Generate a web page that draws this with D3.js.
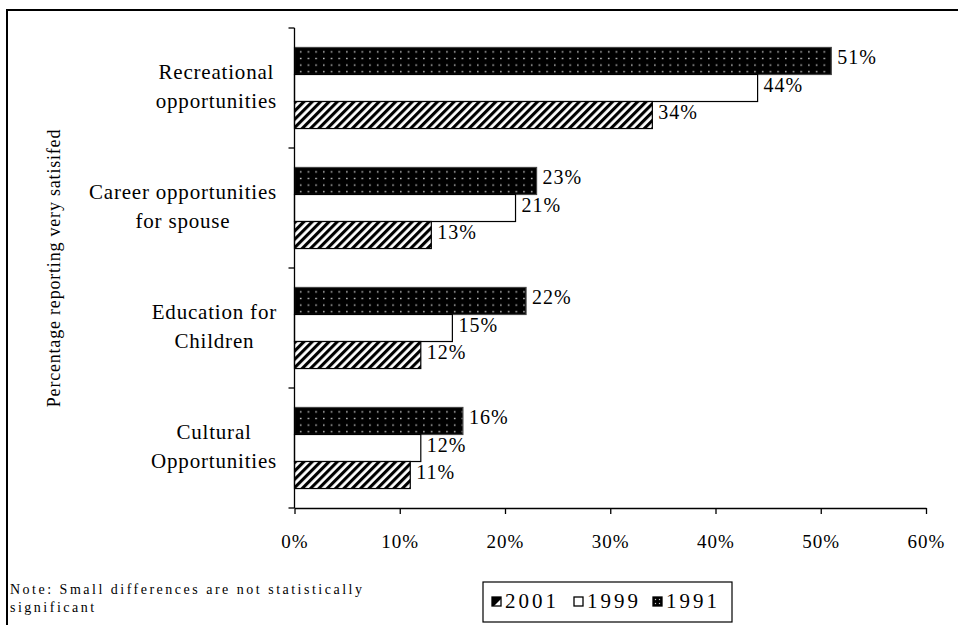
<!DOCTYPE html>
<html>
<head>
<meta charset="utf-8">
<script src="https://cdn.jsdelivr.net/npm/d3@7/dist/d3.min.js"></script>
<style>
  html, body { margin: 0; padding: 0; background: #fff; }
  svg { display: block; }
  text { font-family: "Liberation Serif", "Times New Roman", serif; fill: #000; }
</style>
</head>
<body>
<svg id="chart" width="958" height="625"></svg>
<script>
// Satisfaction items, top to bottom
const categories = [
  ["Recreational", "opportunities"],
  ["Career opportunities", "for spouse"],
  ["Education for", "Children"],
  ["Cultural", "Opportunities"]
];
const categoryKeys = categories.map(c => c.join(" "));

// Survey years, drawn top to bottom within each item
const years = ["1991", "1999", "2001"];
const legendYears = ["2001", "1999", "1991"];

// Percentage reporting very satisfied
const values1991 = [51, 23, 22, 16];
const values1999 = [44, 21, 15, 12];
const values2001 = [34, 13, 12, 11];
const seriesValues = { "1991": values1991, "1999": values1999, "2001": values2001 };

const xTicks = [0, 10, 20, 30, 40, 50, 60];
const yTitle = "Percentage reporting very satisifed";
const noteLines = ["Note: Small differences are not statistically", "significant"];

const svg = d3.select("#chart");

// Patterns for the bar fills
const defs = svg.append("defs");
const dots = defs.append("pattern")
  .attr("id", "dots").attr("patternUnits", "userSpaceOnUse")
  .attr("width", 7.7).attr("height", 6.6).attr("x", 297).attr("y", 47);
dots.append("rect").attr("width", 7.7).attr("height", 6.6).attr("fill", "#000");
dots.append("rect").attr("x", 3).attr("y", 2.6).attr("width", 1.4).attr("height", 1.4)
  .attr("fill", "#fff").attr("opacity", 0.85);

const hatch = defs.append("pattern")
  .attr("id", "hatch").attr("patternUnits", "userSpaceOnUse")
  .attr("width", 5.9).attr("height", 10)
  .attr("patternTransform", "rotate(45)");
hatch.append("rect").attr("width", 5.9).attr("height", 10).attr("fill", "#fff");
hatch.append("rect").attr("width", 3.1).attr("height", 10).attr("fill", "#000");

const fills = { "1991": "url(#dots)", "1999": "#fff", "2001": "url(#hatch)" };

// Outer frame
svg.append("rect")
  .attr("x", 7).attr("y", 10).attr("width", 1000).attr("height", 700)
  .attr("fill", "none").attr("stroke", "#000").attr("stroke-width", 2);

// Scales
const x = d3.scaleLinear().domain([0, 60]).range([294.5, 926]);
const y0 = d3.scaleBand().domain(categoryKeys).range([28, 508]).paddingInner(0).paddingOuter(0);
const y1 = d3.scaleBand().domain(years).range([0, y0.bandwidth()]).paddingInner(0).paddingOuter(0.72);

// Bars
const groups = svg.append("g").selectAll("g")
  .data(categoryKeys)
  .join("g")
  .attr("transform", d => `translate(0,${y0(d)})`);

groups.each(function (key, i) {
  const g = d3.select(this);
  years.forEach(yr => {
    const v = seriesValues[yr][i];
    g.append("rect")
      .attr("x", x(0))
      .attr("y", y1(yr))
      .attr("width", x(v) - x(0))
      .attr("height", y1.bandwidth())
      .attr("fill", fills[yr])
      .attr("stroke", yr === "1991" ? "#444" : "#000")
      .attr("stroke-width", 1.2);
    g.append("text")
      .attr("x", x(v) + 6)
      .attr("y", y1(yr) + y1.bandwidth() / 2 + 3.5)
      .attr("font-size", 20)
      .attr("letter-spacing", 1)
      .text(v + "%");
  });
});

// X axis
const xAxis = d3.axisBottom(x)
  .tickValues(xTicks)
  .tickFormat(d => d + "%")
  .tickSize(6)
  .tickSizeOuter(0);
const gx = svg.append("g").attr("transform", "translate(0,508)").call(xAxis);
gx.select(".domain").attr("stroke", "#000").attr("stroke-width", 1.3);
gx.selectAll(".tick line").attr("stroke", "#000").attr("stroke-width", 1.3);
gx.selectAll(".tick text")
  .attr("font-family", "Liberation Serif, Times New Roman, serif")
  .attr("font-size", 19)
  .attr("letter-spacing", 1)
  .attr("dy", null)
  .attr("y", 40);

// Y axis (category boundaries as ticks)
const boundaries = categoryKeys.map(k => y0(k)).concat([y0.range()[1]]);
const yLine = svg.append("g");
yLine.append("line")
  .attr("x1", x(0)).attr("x2", x(0))
  .attr("y1", boundaries[0]).attr("y2", boundaries[boundaries.length - 1])
  .attr("stroke", "#000").attr("stroke-width", 1.3);
yLine.selectAll("line.tick")
  .data(boundaries)
  .join("line")
  .attr("class", "tick")
  .attr("x1", x(0) - 6).attr("x2", x(0))
  .attr("y1", d => d).attr("y2", d => d)
  .attr("stroke", "#000").attr("stroke-width", 1.3);

// Category labels: lines centred within a block whose right edge sits left of the axis
const labelRight = 277;
categories.forEach((lines, i) => {
  const cy = y0(categoryKeys[i]) + y0.bandwidth() / 2;
  const t = svg.append("text")
    .attr("text-anchor", "middle")
    .attr("font-size", 21)
    .attr("letter-spacing", 0.8);
  const spans = lines.map((ln, j) => t.append("tspan")
    .attr("y", cy - 9 + j * 29)
    .text(ln));
  const blockW = d3.max(spans, s => s.node().getComputedTextLength());
  spans.forEach(s => s.attr("x", labelRight - blockW / 2));
});

// Y axis title
svg.append("text")
  .attr("transform", "translate(60,268) rotate(-90)")
  .attr("text-anchor", "middle")
  .attr("font-size", 18)
  .attr("letter-spacing", 0.8)
  .text(yTitle);

// Footnote
noteLines.forEach((ln, j) => {
  svg.append("text")
    .attr("x", 10)
    .attr("y", 594 + j * 18)
    .attr("font-size", 14)
    .attr("letter-spacing", 2.5)
    .text(ln);
});

// Legend
const legend = svg.append("g");
legend.append("rect")
  .attr("x", 483).attr("y", 582).attr("width", 249).attr("height", 40)
  .attr("fill", "#fff").attr("stroke", "#000").attr("stroke-width", 1.2);

const legendX = { "2001": 492, "1999": 574, "1991": 653 };
legendYears.forEach(yr => {
  const lx = legendX[yr];
  const sw = legend.append("g").attr("transform", `translate(${lx},597)`);
  if (yr === "2001") {
    sw.append("rect").attr("width", 9).attr("height", 9).attr("fill", "#000");
    sw.append("path").attr("d", "M9,2 L9,9 L2,9 Z").attr("fill", "#fff");
    sw.append("rect").attr("width", 9).attr("height", 9)
      .attr("fill", "none").attr("stroke", "#000").attr("stroke-width", 1.3);
  } else if (yr === "1999") {
    sw.append("rect").attr("width", 9).attr("height", 9)
      .attr("fill", "#fff").attr("stroke", "#000").attr("stroke-width", 1.3);
  } else {
    sw.append("rect").attr("width", 9).attr("height", 9)
      .attr("fill", "#000").attr("stroke", "#000").attr("stroke-width", 1.3);
    [[2.5, 2.5], [6.5, 2.5], [2.5, 6.5], [6.5, 6.5]].forEach(p => {
      sw.append("rect").attr("x", p[0] - 0.6).attr("y", p[1] - 0.6)
        .attr("width", 1.2).attr("height", 1.2).attr("fill", "#fff").attr("opacity", 0.8);
    });
  }
  legend.append("text")
    .attr("x", lx + 13)
    .attr("y", 608)
    .attr("font-size", 21)
    .attr("letter-spacing", 3)
    .text(yr);
});
</script>
</body>
</html>
